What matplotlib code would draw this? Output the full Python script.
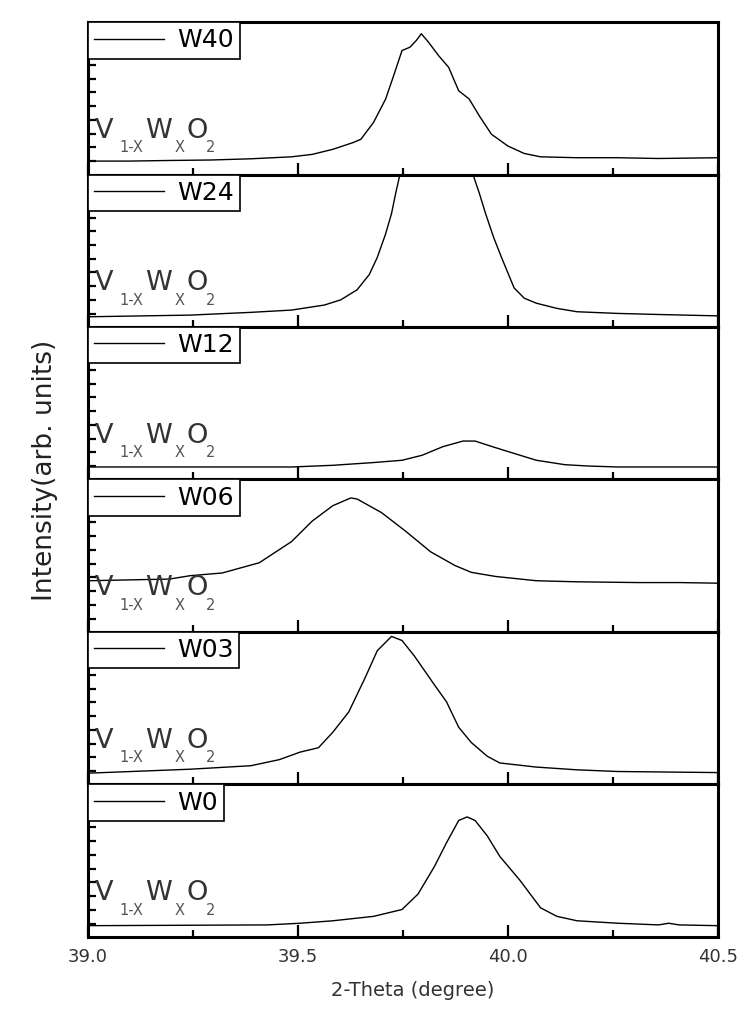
import numpy as np
import matplotlib
matplotlib.use("Agg")
import matplotlib.pyplot as plt
from matplotlib.ticker import MultipleLocator

plt.rcParams['font.family'] = ['DejaVu Sans']

# samples, top panel first
labels = ['W40', 'W24', 'W12', 'W06', 'W03', 'W0']

# 2-theta (degree) and intensity (arb. units, % of panel height)
w40_x = [39.000, 39.097, 39.194, 39.291, 39.388, 39.485, 39.534, 39.583, 39.631, 39.650,
         39.680, 39.709, 39.728, 39.748, 39.767, 39.782, 39.794, 39.811, 39.835, 39.859,
         39.883, 39.908, 39.932, 39.961, 40.000, 40.039, 40.078, 40.165, 40.262, 40.359, 40.500]
w40_y = [8.8, 8.8, 9.2, 9.5, 10.3, 11.6, 13.2, 16.5, 20.9, 23.1,
         34.1, 49.5, 64.8, 81.3, 83.5, 87.9, 92.3, 86.8, 78.0, 70.3,
         54.9, 49.5, 38.5, 26.4, 18.7, 13.8, 11.6, 11.0, 11.0, 10.5, 11.0]

w24_x = [39.000, 39.243, 39.388, 39.485, 39.563, 39.602, 39.641, 39.670, 39.689, 39.709,
         39.723, 39.733, 39.743, 39.77, 39.80, 39.83, 39.86, 39.89, 39.917, 39.932,
         39.947, 39.966, 39.985, 40.015, 40.039, 40.068, 40.117, 40.165, 40.262, 40.359, 40.500]
w24_y = [6.7, 7.8, 9.6, 11.1, 14.4, 17.8, 24.4, 34.4, 45.6, 61.1,
         74.4, 87.8, 100.0, 125.0, 140.0, 145.0, 140.0, 122.0, 100.0, 87.8,
         74.4, 58.9, 45.6, 25.6, 18.9, 15.6, 12.2, 10.0, 8.9, 8.2, 7.3]

w12_x = [39.000, 39.485, 39.583, 39.680, 39.748, 39.796, 39.845, 39.893, 39.922, 39.951,
         39.990, 40.029, 40.068, 40.136, 40.194, 40.262, 40.500]
w12_y = [8.2, 8.2, 9.3, 11.1, 12.6, 15.9, 21.5, 25.2, 25.2, 22.6,
         19.2, 15.9, 12.6, 9.7, 8.8, 8.2, 8.2]

w06_x = [39.000, 39.194, 39.243, 39.320, 39.408, 39.485, 39.534, 39.583, 39.626, 39.641,
         39.699, 39.757, 39.816, 39.874, 39.913, 39.971, 40.068, 40.165, 40.311, 40.408, 40.500]
w06_y = [33.6, 34.7, 36.9, 38.7, 45.4, 59.3, 72.7, 82.8, 87.9, 87.2,
         78.3, 66.0, 52.6, 43.6, 39.1, 36.4, 33.6, 32.9, 32.4, 32.4, 32.0]

w03_x = [39.000, 39.243, 39.388, 39.456, 39.505, 39.549, 39.583, 39.621, 39.660, 39.689,
         39.723, 39.748, 39.777, 39.825, 39.854, 39.883, 39.913, 39.951, 39.981, 40.068,
         40.165, 40.262, 40.500]
w03_y = [7.4, 10.0, 12.3, 16.3, 21.2, 24.1, 34.2, 47.5, 69.9, 87.7,
         97.1, 94.4, 84.4, 65.4, 54.2, 37.5, 27.5, 18.5, 14.1, 11.4,
         9.6, 8.5, 7.8]

w0_x = [39.000, 39.427, 39.505, 39.583, 39.680, 39.748, 39.786, 39.825, 39.854, 39.883,
        39.903, 39.922, 39.951, 39.981, 40.029, 40.078, 40.117, 40.165, 40.262, 40.359,
        40.383, 40.408, 40.500]
w0_y = [7.4, 7.9, 9.0, 10.6, 13.5, 18.0, 28.1, 46.1, 61.8, 76.4,
        78.7, 76.4, 66.3, 52.8, 37.1, 19.1, 13.5, 10.6, 9.0, 7.9,
        9.0, 7.9, 7.4]

series = [(w40_x, w40_y), (w24_x, w24_y), (w12_x, w12_y),
          (w06_x, w06_y), (w03_x, w03_y), (w0_x, w0_y)]

xticks = [39.0, 39.5, 40.0, 40.5]
xticklabels = ['39.0', '39.5', '40.0', '40.5']

# V(1-X) W(X) O(2) label, drawn piece by piece: (text, x in axes fraction, is subscript)
formula = [('V', 0.011, False), ('1-X', 0.050, True), ('W', 0.090, False),
           ('X', 0.137, True), ('O', 0.156, False), ('2', 0.188, True)]

fig, axes = plt.subplots(6, 1, figsize=(7.5, 10.24), dpi=100, sharex=True)
fig.subplots_adjust(left=0.1173, right=0.957, top=0.9785, bottom=0.085, hspace=0)

for ax, (xs, ys), lab in zip(axes, series, labels):
    ax.plot(xs, ys, color='black', lw=1.0, label=lab)
    ax.set_xlim(39.0, 40.5)
    ax.set_ylim(0, 100)
    for s in ax.spines.values():
        s.set_linewidth(2.2)
    ax.set_yticks(np.arange(8.8, 100, 9.0))
    ax.tick_params(axis='y', direction='in', length=6, width=1.6, labelleft=False)
    ax.set_xticks(xticks)
    ax.xaxis.set_minor_locator(MultipleLocator(0.25))
    ax.tick_params(axis='x', which='major', direction='in', length=9, width=1.6)
    ax.tick_params(axis='x', which='minor', direction='in', length=5, width=1.6)
    for txt, tx, sub in formula:
        if sub:
            ax.text(tx, 0.145, txt, transform=ax.transAxes, fontsize=10.5,
                    color='#555555', va='baseline')
        else:
            ax.text(tx, 0.24, txt, transform=ax.transAxes, fontsize=19.5,
                    color='#333333', va='baseline')
    leg = ax.legend(loc='upper left', borderaxespad=0, fontsize=18, fancybox=False,
                    handlelength=2.8, handletextpad=0.5, borderpad=0.25, framealpha=1)
    leg.get_frame().set_edgecolor('black')
    leg.get_frame().set_linewidth(1.2)

axes[-1].set_xticklabels(xticklabels)
axes[-1].tick_params(axis='x', labelsize=13, labelcolor='#333333', pad=8)

fig.text(0.55, 1 - 990 / 1024, '2-Theta (degree)', ha='center', va='center',
         fontsize=14, color='#333333')
fig.text(0.06, 1 - 470 / 1024, 'Intensity(arb. units)', ha='center', va='center',
         rotation=90, fontsize=19, color='#222222')

plt.savefig('out.png')
